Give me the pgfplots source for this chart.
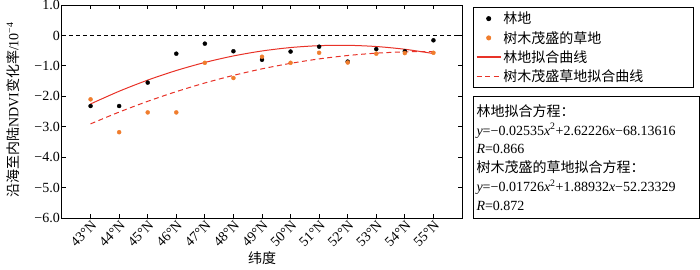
\documentclass[border=0pt]{standalone}
\usepackage{fontspec}
\setmainfont{Liberation Serif}
\newfontfamily\cjk{Noto Sans CJK SC}
\usepackage{pgfplots}
\pgfplotsset{compat=1.18}
\definecolor{dotorange}{RGB}{240,125,45}
\definecolor{fitred}{RGB}{232,50,40}
\pgfplotsset{
  dotlegend/.style={legend image code/.code={\draw[mark repeat=2,mark phase=2,##1] plot coordinates {(0bp,0bp) (12bp,0bp) (24bp,0bp)};}},
  solidlegend/.style={legend image code/.code={\path[draw=fitred, color=fitred, line width=1.4bp] (0bp,0.2bp) -- (24bp,0.2bp);}},
  dashlegend/.style={legend image code/.code={\path[draw=fitred, color=fitred, line width=1.2bp, dash pattern=on 5bp off 3.5bp] (0bp,0bp) -- (24bp,0bp);}},
}
\begin{document}
\begin{tikzpicture}[font=\fontsize{14bp}{17bp}\selectfont]
\useasboundingbox (-62bp,-52bp) rectangle (638bp,218bp);
\begin{axis}[
  at={(0,0)}, anchor=south west,
  scale only axis, width=400bp, height=213bp,
  xmin=42, xmax=56, ymin=-6, ymax=1,
  xtick={43,44,45,46,47,48,49,50,51,52,53,54,55},
  xticklabels={43°N,44°N,45°N,46°N,47°N,48°N,49°N,50°N,51°N,52°N,53°N,54°N,55°N},
  xticklabel style={rotate=45, anchor=north east, inner sep=1bp},
  ytick={-6,-5,-4,-3,-2,-1,0,1},
  yticklabels={−6.0,−5.0,−4.0,−3.0,−2.0,−1.0,0,1.0},
  yticklabel style={inner sep=2bp},
  tick align=inside, major tick length=4bp,
  tick style={line width=0.8bp, black},
  axis line style={line width=1bp},
  xlabel={\cjk 纬度},
  xlabel style={at={(axis description cs:0.5,-0.188)}, anchor=center},
  ylabel={{\cjk 沿海至内陆}NDVI{\cjk 变化率}/10\textsuperscript{−4}},
  ylabel style={at={(axis description cs:-0.1225,0.507)}, anchor=center},
  legend style={at={(axis description cs:1.0275,0.9906)}, anchor=north west,
    draw=black, line width=1bp, inner sep=2.5bp, row sep=2bp,
    font=\fontsize{14bp}{17bp}\selectfont},
  legend cell align=left,
]
\addplot[only marks, mark=*, mark size=2bp, black, dotlegend]
  coordinates {(43,-2.32) (44,-2.32) (45,-1.55) (46,-0.60) (47,-0.27) (48,-0.52) (49,-0.80) (50,-0.53) (51,-0.37) (52,-0.86) (53,-0.45) (54,-0.52) (55,-0.16)};
\addlegendentry{\makebox[186bp][l]{\cjk 林地}}
\addplot[only marks, mark=*, mark size=2bp, dotorange, dotlegend]
  coordinates {(43,-2.10) (44,-3.18) (45,-2.53) (46,-2.53) (47,-0.90) (48,-1.40) (49,-0.70) (50,-0.90) (51,-0.57) (52,-0.89) (53,-0.60) (54,-0.58) (55,-0.57)};
\addlegendentry{{\cjk 树木茂盛的草地}}
\addplot[draw=fitred, line width=1bp, smooth, no marks, solidlegend]
  coordinates {(43,-2.25113) (44,-1.83432) (45,-1.46821) (46,-1.15280) (47,-0.88809) (48,-0.67408) (49,-0.51077) (50,-0.39816) (51,-0.33625) (52,-0.32504) (53,-0.36453) (54,-0.45472) (55,-0.59561)};
\addlegendentry{{\cjk 林地拟合曲线}}
\addplot[draw=fitred, line width=1bp, smooth, no marks, dash pattern=on 5bp off 3.5bp, dashlegend]
  coordinates {(43,-2.90627) (44,-2.51857) (45,-2.16539) (46,-1.84673) (47,-1.56259) (48,-1.31297) (49,-1.09787) (50,-0.91729) (51,-0.77123) (52,-0.65969) (53,-0.58267) (54,-0.54017) (55,-0.53219)};
\addlegendentry{{\cjk 树木茂盛草地拟合曲线}}
\addplot[black, line width=0.9bp, dash pattern=on 4bp off 3bp, forget plot]
  coordinates {(42,0) (56,0)};
\end{axis}
\node[draw=black, line width=1bp, anchor=north west, inner sep=2bp,
  minimum width=226bp, minimum height=122bp, text width=220bp, align=left,
  font=\fontsize{14bp}{18.8bp}\selectfont] at (411bp,122bp)
  {{\cjk 林地拟合方程：}\\
   \textit{y}=−0.02535\textit{x}\textsuperscript{2}+2.62226\textit{x}−68.13616\\
   \textit{R}=0.866\\
   {\cjk 树木茂盛的草地拟合方程：}\\
   \textit{y}=−0.01726\textit{x}\textsuperscript{2}+1.88932\textit{x}−52.23329\\
   \textit{R}=0.872};
\end{tikzpicture}
\end{document}
